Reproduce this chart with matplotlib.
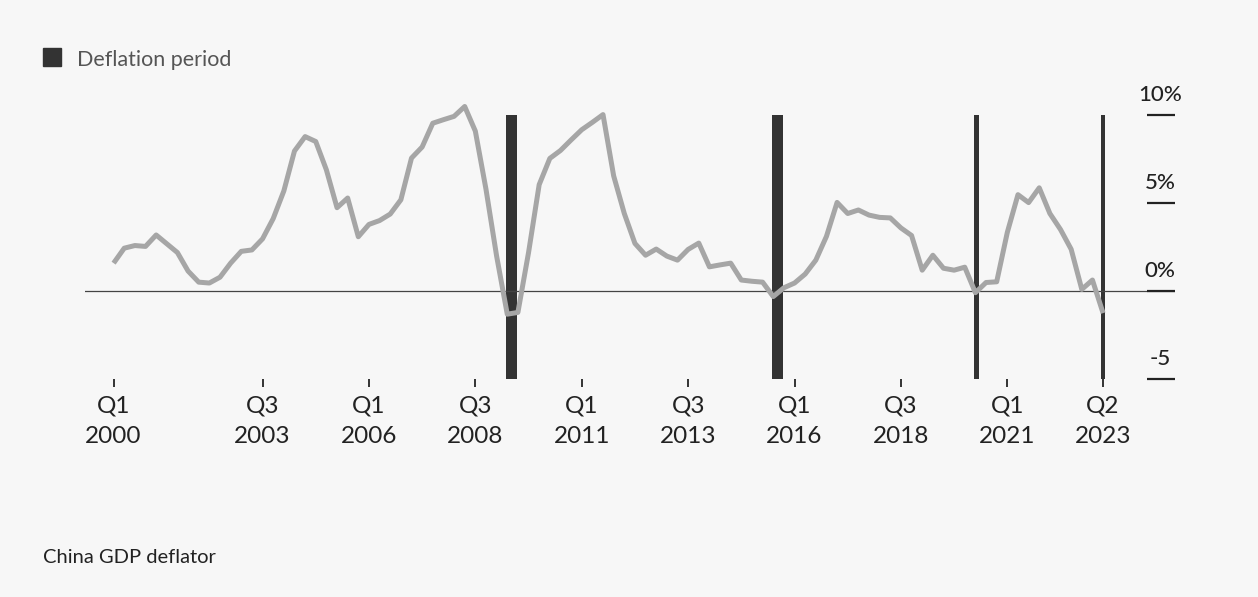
import matplotlib
matplotlib.use("Agg")
import matplotlib.pyplot as plt
from matplotlib.patches import Rectangle
import matplotlib.transforms as mtransforms

# ---------------- data ----------------
# China GDP deflator, YoY %, quarterly from Q4 1999 to Q1 2023 (plotted at quarter end)
start_year = 1999
start_quarter = 4
deflator = [
    1.60, 2.45, 2.60, 2.55, 3.20, 2.70, 2.20, 1.15, 0.52, 0.47,
    0.80, 1.60, 2.27, 2.35, 2.98, 4.13, 5.70, 7.97, 8.79, 8.51,
    6.90, 4.75, 5.30, 3.10, 3.80, 4.02, 4.39, 5.20, 7.57, 8.20,
    9.55, 9.75, 9.94, 10.50, 9.10, 5.80, 2.00, -1.30, -1.20, 2.20,
    6.06, 7.55, 8.00, 8.60, 9.18, 9.60, 10.04, 6.56, 4.42, 2.72,
    2.05, 2.40, 2.00, 1.77, 2.38, 2.74, 1.39, 1.50, 1.60, 0.64,
    0.57, 0.52, -0.30, 0.20, 0.47, 0.98, 1.77, 3.12, 5.05, 4.42,
    4.62, 4.33, 4.20, 4.17, 3.60, 3.17, 1.20, 2.05, 1.31, 1.20,
    1.37, -0.08, 0.50, 0.54, 3.35, 5.49, 5.04, 5.88, 4.42, 3.51,
    2.39, 0.11, 0.64, -1.24,
]

# Deflation periods (decimal years, start / end)
deflation_start = [2009.22, 2015.47, 2020.22, 2023.20]
deflation_end = [2009.47, 2015.72, 2020.33, 2023.30]

tick_labels = ["Q1\n2000", "Q3\n2003", "Q1\n2006", "Q3\n2008", "Q1\n2011",
               "Q3\n2013", "Q1\n2016", "Q3\n2018", "Q1\n2021", "Q2\n2023"]
tick_years = [2000, 2003, 2006, 2008, 2011, 2013, 2016, 2018, 2021, 2023]
tick_quarters = [1, 3, 1, 3, 1, 3, 1, 3, 1, 2]

y_ticks = [10, 5, 0, -5]
y_tick_labels = ["10%", "5%", "0%", "-5"]

title_text = "China GDP deflator"
legend_text = "Deflation period"

# ---------------- style ----------------
BG = "#f7f7f7"
LINE = "#a6a6a6"
DARK = "#333333"
FONT = "Lato"

plt.rcParams["font.family"] = [FONT, "DejaVu Sans"]

W, H = 1258, 597
fig = plt.figure(figsize=(W / 100, H / 100), dpi=100, facecolor=BG)

ax_left, ax_right = 85, 1175
y_bottom_px, y_top_px = 379.3, 97.7
ax = fig.add_axes([ax_left / W, 1 - y_bottom_px / H,
                   (ax_right - ax_left) / W, (y_bottom_px - y_top_px) / H])
ax.set_facecolor(BG)
for s in ax.spines.values():
    s.set_visible(False)

# x values: quarter end
xs = []
y, q = start_year, start_quarter
for _ in deflator:
    xs.append(y + q / 4)
    q += 1
    if q > 4:
        q = 1
        y += 1

ax.set_xlim(1999.328, 2024.94)
ax.set_ylim(-5, 11)

# deflation bars
for s0, s1 in zip(deflation_start, deflation_end):
    ax.bar(s0, 15, bottom=-5, width=s1 - s0, align="edge", color=DARK,
           linewidth=0, zorder=1)

# zero line
ax.axhline(0, color="#444444", lw=0.9, zorder=2)

# series
ax.plot(xs, deflator, color=LINE, lw=3.6, solid_joinstyle="round",
        solid_capstyle="butt", zorder=3, clip_on=False)

# x ticks
tick_x = [yy + (qq - 1) / 4 for yy, qq in zip(tick_years, tick_quarters)]
ax.set_xticks(tick_x)
ax.set_xticklabels(tick_labels, fontsize=17.5, color="#222222", linespacing=1.6)
ax.tick_params(axis="x", direction="out", length=5.5, width=1.4, color=DARK,
               pad=6)
ax.set_yticks([])

# right y ticks as short lines with labels above
trans = mtransforms.blended_transform_factory(ax.transAxes, ax.transData)
x0 = (1147 - ax_left) / (ax_right - ax_left)
xc = (1160 - ax_left) / (ax_right - ax_left)
for v, lab in zip(y_ticks, y_tick_labels):
    ax.plot([x0, 1.0], [v, v], transform=trans, color="#222222", lw=1.6,
            clip_on=False, zorder=4, solid_capstyle="butt")
    ax.annotate(lab, xy=(xc, v), xycoords=trans, xytext=(0, 10),
                textcoords="offset points", ha="center", va="baseline",
                fontsize=16, color="#222222", fontweight="medium")

# legend
fig.patches.append(Rectangle((43 / W, 1 - 66 / H), 18 / W, 18 / H,
                             transform=fig.transFigure, color=DARK))
fig.text(77 / W, 1 - 66 / H, legend_text, fontsize=15.5, color="#555555",
         fontweight="normal", va="baseline", ha="left")

# source / title
fig.text(43 / W, 1 - 563 / H, title_text, fontsize=14.5, color="#222222",
         va="baseline", ha="left")

fig.savefig("out.png", dpi=100, facecolor=BG)
